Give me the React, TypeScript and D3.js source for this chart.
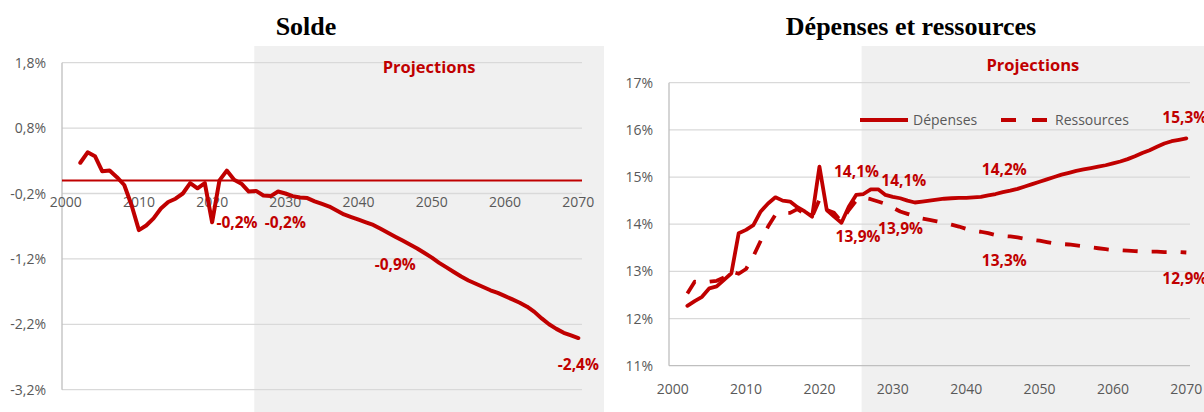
import React from 'react';
import * as d3 from 'd3';

// ---------- DATA ----------
const firstYear = 2002;
const xTickYears = [2000, 2010, 2020, 2030, 2040, 2050, 2060, 2070];

// Solde (% du PIB), 2002 → 2070
const solde = [
  0.27, 0.43, 0.37, 0.14, 0.15, 0.05, -0.07, -0.38, -0.76, -0.69,
  -0.58, -0.43, -0.33, -0.28, -0.2, -0.04, -0.12, -0.04, -0.64, 0.0,
  0.15, 0.01, -0.05, -0.17, -0.16, -0.23, -0.24, -0.17, -0.2, -0.24,
  -0.26, -0.27, -0.32, -0.36, -0.4, -0.46, -0.52, -0.56, -0.6, -0.64,
  -0.68, -0.74, -0.8, -0.86, -0.92, -0.98, -1.04, -1.11, -1.18, -1.26,
  -1.33, -1.4, -1.47, -1.53, -1.58, -1.63, -1.68, -1.72, -1.77, -1.82,
  -1.87, -1.93, -2.01, -2.11, -2.2, -2.27, -2.33, -2.37, -2.41,
];
const soldeTicks = [1.8, 0.8, -0.2, -1.2, -2.2, -3.2];
const soldeLabels = [
  { text: '-0,2%', year: 2023.4, value: -0.72 },
  { text: '-0,2%', year: 2030.0, value: -0.72 },
  { text: '-0,9%', year: 2045.0, value: -1.373 },
  { text: '-2,4%', year: 2070.0, value: -2.9 },
];

// Dépenses et ressources (% du PIB), 2002 → 2070
const depenses = [
  12.27, 12.37, 12.46, 12.64, 12.68, 12.82, 12.96, 13.81, 13.88, 13.98,
  14.27, 14.44, 14.57, 14.5, 14.48, 14.36, 14.27, 14.16, 15.22, 14.3,
  14.16, 14.03, 14.37, 14.62, 14.64, 14.74, 14.74, 14.62, 14.58, 14.55,
  14.5, 14.46, 14.48, 14.5, 14.52, 14.54, 14.55, 14.56, 14.56, 14.57,
  14.58, 14.61, 14.64, 14.68, 14.71, 14.75, 14.8, 14.85, 14.9, 14.95,
  15.0, 15.05, 15.09, 15.13, 15.16, 15.19, 15.22, 15.25, 15.29, 15.33,
  15.38, 15.44, 15.51, 15.57, 15.64, 15.71, 15.76, 15.79, 15.82,
];
const ressources = [
  12.53, 12.78, 12.76, 12.78, 12.8, 12.87, 13.0, 12.95, 13.05, 13.32,
  13.65, 13.95, 14.2, 14.24, 14.24, 14.32, 14.22, 14.16, 14.52, 14.3,
  14.24, 14.05, 14.3, 14.5, 14.56, 14.53, 14.48, 14.43, 14.35, 14.27,
  14.22, 14.17, 14.12, 14.09, 14.06, 14.03, 13.99, 13.95, 13.9, 13.86,
  13.84, 13.81, 13.77, 13.75, 13.74, 13.72, 13.69, 13.67, 13.65, 13.62,
  13.59, 13.58, 13.57, 13.55, 13.53, 13.51, 13.49, 13.47, 13.45, 13.45,
  13.44, 13.43, 13.42, 13.42, 13.42, 13.41, 13.41, 13.41, 13.4,
];
const depTicks = [17, 16, 15, 14, 13, 12, 11];
const depLabels = [
  { text: '14,1%', year: 2025.05, value: 15.0 },
  { text: '14,1%', year: 2031.5, value: 14.81 },
  { text: '13,9%', year: 2025.26, value: 13.62 },
  { text: '13,9%', year: 2031.05, value: 13.79 },
  { text: '14,2%', year: 2045.2, value: 15.04 },
  { text: '13,3%', year: 2045.2, value: 13.11 },
  { text: '15,3%', year: 2069.8, value: 16.15 },
  { text: '12,9%', year: 2069.8, value: 12.73 },
];
const projectionStart = 2025.75;

// ---------- STYLE ----------
const RED = '#C00000';
const GRID = '#D9D9D9';
const AXIS = '#BFBFBF';
const TICK = '#595959';
const SHADE = '#F0F0F0';
const SANS = "'Open Sans', 'Noto Sans', sans-serif";
const SERIF = "'Liberation Serif', 'Times New Roman', serif";

const fmtPct = (v: number) => v.toFixed(1).replace('.', ',') + '%';
const fmtInt = (v: number) => v.toFixed(0) + '%';

export default function App() {
  // Left panel
  const xL = d3.scaleLinear().domain([1999.5, 2070.5]).range([62, 582]);
  const yL = d3.scaleLinear().domain([-3.2, 1.8]).range([389.7, 62.7]);
  const lineL = d3
    .line<number>()
    .x((_, i) => xL(firstYear + i))
    .y((d) => yL(d));

  // Right panel
  const xR = d3.scaleLinear().domain([1999.5, 2070.5]).range([669, 1190]);
  const yR = d3.scaleLinear().domain([11, 17]).range([365.7, 82.7]);
  const lineR = d3
    .line<number>()
    .x((_, i) => xR(firstYear + i))
    .y((d) => yR(d));

  const labelStyle = {
    fontFamily: SANS,
    fontWeight: 700,
    fontSize: 15.5,
    fill: RED,
  } as const;
  const tickStyle = { fontFamily: SANS, fontSize: 14, fill: TICK } as const;

  return (
    <svg
      width={1204}
      height={412}
      style={{ position: 'absolute', left: 0, top: 0, background: '#fff' }}
    >
      {/* ===== LEFT: Solde ===== */}
      <rect x={xL(projectionStart)} y={46} width={604 - xL(projectionStart)} height={366} fill={SHADE} />
      <text x={306} y={35} textAnchor="middle" fontFamily={SERIF} fontWeight={700} fontSize={26}>
        Solde
      </text>
      {soldeTicks.map((t) => (
        <g key={'lg' + t}>
          <line x1={62} x2={582} y1={yL(t)} y2={yL(t)} stroke={GRID} strokeWidth={1.3} />
          <text x={46} y={yL(t) + 5} textAnchor="end" {...tickStyle}>
            {fmtPct(t)}
          </text>
        </g>
      ))}
      <line x1={62} x2={62} y1={yL(1.8)} y2={yL(-3.2)} stroke={AXIS} strokeWidth={1.3} />
      {xTickYears.map((yr) => (
        <text key={'lx' + yr} x={xL(yr)} y={yL(-0.2) + 13} textAnchor="middle" {...tickStyle}>
          {yr}
        </text>
      ))}
      <line x1={62} x2={582} y1={yL(0)} y2={yL(0)} stroke={RED} strokeWidth={2} />
      <path d={lineL(solde) || ''} fill="none" stroke={RED} strokeWidth={4} strokeLinejoin="round" strokeLinecap="round" />
      <text x={(xL(projectionStart) + 604) / 2} y={73} textAnchor="middle" {...labelStyle} fontSize={16.5}>
        Projections
      </text>
      {soldeLabels.map((l, i) => (
        <text key={'sl' + i} x={xL(l.year)} y={yL(l.value)} textAnchor="middle" {...labelStyle}>
          {l.text}
        </text>
      ))}

      {/* ===== RIGHT: Dépenses et ressources ===== */}
      <rect x={xR(projectionStart)} y={46} width={1204 - xR(projectionStart)} height={366} fill={SHADE} />
      <text x={911} y={35} textAnchor="middle" fontFamily={SERIF} fontWeight={700} fontSize={26}>
        Dépenses et ressources
      </text>
      {depTicks.map((t) => (
        <g key={'rg' + t}>
          {t !== 11 && (
            <line x1={669} x2={1190} y1={yR(t)} y2={yR(t)} stroke={GRID} strokeWidth={1.3} />
          )}
          <text x={653} y={yR(t) + 5} textAnchor="end" {...tickStyle}>
            {fmtInt(t)}
          </text>
        </g>
      ))}
      <line x1={669} x2={669} y1={yR(17)} y2={yR(11)} stroke={AXIS} strokeWidth={1.3} />
      <line x1={669} x2={1190} y1={yR(11)} y2={yR(11)} stroke={AXIS} strokeWidth={1.3} />
      {xTickYears.map((yr) => (
        <text key={'rx' + yr} x={xR(yr)} y={yR(11) + 28} textAnchor="middle" {...tickStyle}>
          {yr}
        </text>
      ))}
      <path d={lineR(ressources) || ''} fill="none" stroke={RED} strokeWidth={3.8} strokeDasharray="15 14" strokeLinejoin="round" />
      <path d={lineR(depenses) || ''} fill="none" stroke={RED} strokeWidth={3.8} strokeLinejoin="round" strokeLinecap="round" />
      <text x={(xR(projectionStart) + 1204) / 2} y={71} textAnchor="middle" {...labelStyle} fontSize={16.5}>
        Projections
      </text>
      {/* legend */}
      <line x1={860} x2={908} y1={120} y2={120} stroke={RED} strokeWidth={3.8} />
      <text x={913} y={125} {...tickStyle}>Dépenses</text>
      <line x1={1001} x2={1047} y1={120} y2={120} stroke={RED} strokeWidth={3.8} strokeDasharray="15 16" />
      <text x={1055} y={125} {...tickStyle}>Ressources</text>
      {depLabels.map((l, i) => (
        <text key={'dl' + i} x={xR(l.year)} y={yR(l.value)} textAnchor="middle" {...labelStyle}>
          {l.text}
        </text>
      ))}
    </svg>
  );
}
